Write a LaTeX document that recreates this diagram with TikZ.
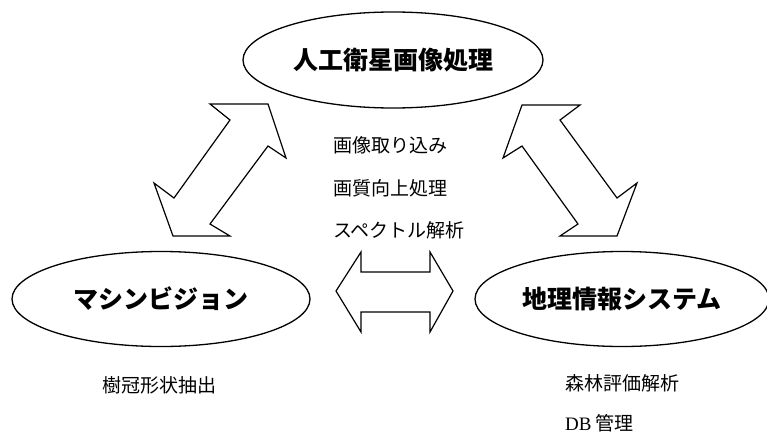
\documentclass[tikz,border=0pt]{standalone}
\usepackage{fontspec}
\usetikzlibrary{shapes.geometric}
\newfontfamily\cjk{Noto Sans CJK JP}
\newfontfamily\latinserif{Liberation Serif}
\begin{document}
\begin{tikzpicture}[x=1pt,y=-1pt,
  oval/.style={draw,line width=1.3pt,ellipse,inner sep=0pt,font=\cjk\bfseries\fontsize{25}{28}\selectfont},
  blockarrow/.style={draw,line width=1.2pt,line join=miter},
  item/.style={anchor=west,inner sep=0pt,font=\cjk\fontsize{19}{22}\selectfont}]
\useasboundingbox (0,0) rectangle (767,436);
% ellipses
\node[oval,minimum width=300pt,minimum height=96pt] (sat) at (393,60) {人工衛星画像処理};
\node[oval,minimum width=298pt,minimum height=95pt] (mv) at (161,299) {マシンビジョン};
\node[oval,minimum width=294pt,minimum height=95pt] (gis) at (622,299) {地理情報システム};
% left diagonal double arrow
\draw[blockarrow] (210,104) -- (268,104) -- (286,158) -- (268,146) -- (210,224) -- (230,236)
  -- (173,236) -- (154,183) -- (174,198) -- (230,120) -- cycle;
% right diagonal double arrow
\draw[blockarrow] (522,105) -- (580,105) -- (560,120) -- (617,198) -- (637,183) -- (617,236)
  -- (560,236) -- (578,224) -- (522,146) -- (503,158) -- cycle;
% horizontal double arrow
\draw[blockarrow] (336,291) -- (361,252) -- (361,272) -- (430,272) -- (430,252) -- (453,291)
  -- (430,332) -- (430,312) -- (361,312) -- (361,332) -- cycle;
% texts
\node[item] (t1) at (333,145) {画像取り込み};
\node[item] (t2) at (333,188) {画質向上処理};
\node[item] (t3) at (333,230) {スペクトル解析};
\node[item] (t4) at (102,385) {樹冠形状抽出};
\node[item] (t5) at (565,383) {森林評価解析};
\node[item] (t6) at (565,423) {{\latinserif DB} 管理};
\end{tikzpicture}
\end{document}
